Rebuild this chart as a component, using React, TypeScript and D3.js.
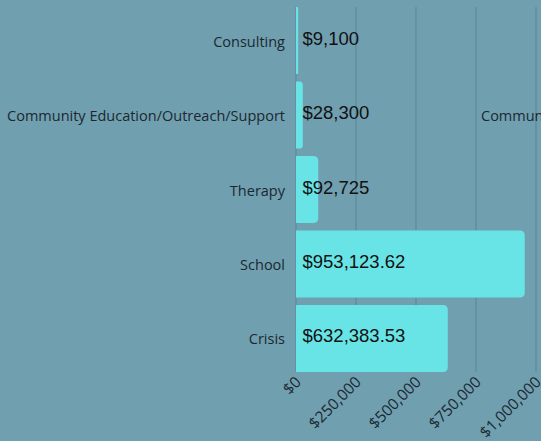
import React, { useRef, useEffect } from 'react';
import * as d3 from 'd3';

const categories = ['Consulting', 'Community Education/Outreach/Support', 'Therapy', 'School', 'Crisis'];
const amounts = [9100, 28300, 92725, 953123.62, 632383.53];
const amountLabels = ['$9,100', '$28,300', '$92,725', '$953,123.62', '$632,383.53'];
const tickValues = [0, 250000, 500000, 750000, 1000000];
const strayLabel = 'Community Education/Outreach/Support';

const W = 541;
const H = 441;

const App = () => {
  const ref = useRef<SVGSVGElement>(null);

  useEffect(() => {
    const svg = d3.select(ref.current);
    svg.selectAll('*').remove();

    svg.append('rect').attr('width', W).attr('height', H).attr('fill', '#709fb0');

    const x = d3.scaleLinear().domain([0, 1000000]).range([296, 536]);
    const y = d3.scaleBand().domain(categories).range([7, 372]).paddingInner(0.1).paddingOuter(0);

    // grid
    svg.append('g')
      .selectAll('line')
      .data(tickValues)
      .join('line')
      .attr('x1', d => x(d)).attr('x2', d => x(d))
      .attr('y1', 7).attr('y2', 372)
      .attr('stroke', '#5a8597')
      .attr('stroke-width', 1);

    // bars, right corners rounded
    const r = 5;
    svg.append('g')
      .selectAll('path')
      .data(categories)
      .join('path')
      .attr('fill', '#68e4e6')
      .attr('d', (c, i) => {
        const x0 = x(0);
        const x1 = x(amounts[i]);
        const w = x1 - x0;
        const rr = Math.min(r, w / 2);
        const top = y(c)!;
        const bot = top + y.bandwidth();
        const p = d3.path();
        p.moveTo(x0, top);
        p.lineTo(x1 - rr, top);
        p.quadraticCurveTo(x1, top, x1, top + rr);
        p.lineTo(x1, bot - rr);
        p.quadraticCurveTo(x1, bot, x1 - rr, bot);
        p.lineTo(x0, bot);
        p.closePath();
        return p.toString();
      });

    // value labels
    svg.append('g')
      .selectAll('text')
      .data(categories)
      .join('text')
      .attr('x', x(0) + 6.5)
      .attr('y', c => y(c)! + y.bandwidth() / 2 + 4)
      .attr('font-family', '"Liberation Sans", Arial, sans-serif')
      .attr('font-size', 18.5)
      .attr('fill', '#111')
      .text((c, i) => amountLabels[i]);

    // category labels
    svg.append('g')
      .selectAll('text')
      .data(categories)
      .join('text')
      .attr('x', 285)
      .attr('y', c => y(c)! + y.bandwidth() / 2 + 6)
      .attr('text-anchor', 'end')
      .attr('font-family', '"Open Sans", sans-serif')
      .attr('font-size', 14.5)
      .attr('fill', '#1b2830')
      .text(c => c);

    // clipped label at the right edge
    svg.append('text')
      .attr('x', 481)
      .attr('y', y(categories[1])! + y.bandwidth() / 2 + 6)
      .attr('font-family', '"Open Sans", sans-serif')
      .attr('font-size', 14.5)
      .attr('fill', '#1b2830')
      .text(strayLabel);

    // x axis labels
    const fmt = d3.format('$,');
    svg.append('g')
      .selectAll('text')
      .data(tickValues)
      .join('text')
      .attr('transform', d => `translate(${x(d) + 6},383) rotate(-45)`)
      .attr('text-anchor', 'end')
      .attr('font-family', '"Open Sans", sans-serif')
      .attr('font-size', 15.5)
      .attr('fill', '#1b2830')
      .text(d => fmt(d));
  }, []);

  return (
    <div style={{ position: 'absolute', left: 0, top: 0 }}>
      <svg ref={ref} width={W} height={H} style={{ display: 'block' }}></svg>
    </div>
  );
};

export default App;
